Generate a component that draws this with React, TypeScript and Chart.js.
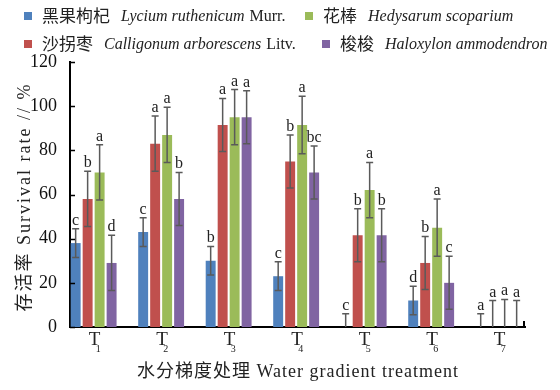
import React, { useEffect, useRef } from 'react';
import { Chart, registerables } from 'chart.js';

Chart.register(...registerables);

// ---- data ----
const categories = ['T1', 'T2', 'T3', 'T4', 'T5', 'T6', 'T7'];
const categoryPositions = [1, 2, 3, 4, 5, 6, 7];

const speciesCN = ['黑果枸杞', '沙拐枣', '花棒', '梭梭'];
const speciesLatin = ['Lycium ruthenicum', 'Calligonum arborescens', 'Hedysarum scoparium', 'Haloxylon ammodendron'];
const speciesAuthority = ['Murr.', 'Litv.', '', ''];

const lyciumMean = [38, 43, 30, 23, 0, 12, 0];
const lyciumErr = [6.5, 6.5, 6.5, 6.5, 6, 6.5, 6];
const lyciumSig = ['c', 'c', 'b', 'c', 'c', 'd', 'a'];

const calligonumMean = [58, 83, 91.5, 75, 41.5, 29, 0];
const calligonumErr = [12.5, 12.5, 12, 12, 12, 12, 12];
const calligonumSig = ['b', 'a', 'a', 'b', 'b', 'b', 'a'];

const hedysarumMean = [70, 87, 95, 91.5, 62, 45, 0];
const hedysarumErr = [12.5, 12.5, 12.5, 13, 12.5, 13, 12.5];
const hedysarumSig = ['a', 'a', 'a', 'a', 'a', 'a', 'a'];

const haloxylonMean = [29, 58, 95, 70, 41.5, 20, 0];
const haloxylonErr = [12.5, 12, 12, 12, 12, 12, 12];
const haloxylonSig = ['d', 'b', 'a', 'bc', 'b', 'c', 'a'];

const yTicksMax = 120;
const yTickStep = 20;

const means = [lyciumMean, calligonumMean, hedysarumMean, haloxylonMean];
const errs = [lyciumErr, calligonumErr, hedysarumErr, haloxylonErr];
const sigs = [lyciumSig, calligonumSig, hedysarumSig, haloxylonSig];
const colors = ['#4F81BD', '#C0504D', '#9BBB59', '#8064A2'];

const yTitle = '存活率 Survival rate // %';
const xTitle = '水分梯度处理 Water gradient treatment';

// legend layout: rows of dataset indices and box x-positions
const legendRows = [
  { items: [0, 2], xs: [24, 305], y: 16 },
  { items: [1, 3], xs: [24, 322], y: 44 },
];

const TEXT = '#222';
const SERIF = '"Liberation Serif", "Noto Sans CJK SC"';
const CJK = '"Noto Sans CJK SC"';

const overlayPlugin = {
  id: 'overlay',
  afterDatasetsDraw(chart: any) {
    const { ctx, chartArea } = chart;
    const y = chart.scales.y;
    ctx.save();
    ctx.beginPath();
    ctx.rect(chartArea.left, 0, chartArea.right - chartArea.left, chartArea.bottom);
    ctx.clip();
    chart.data.datasets.forEach((ds: any, di: number) => {
      const meta = chart.getDatasetMeta(di);
      meta.data.forEach((bar: any, i: number) => {
        const v = means[di][i];
        const e = errs[di][i];
        const cx = bar.x;
        const yTop = y.getPixelForValue(v + e);
        const lowVal = v - e;
        const yBot = y.getPixelForValue(Math.max(lowVal, 0));
        ctx.strokeStyle = '#5a5a5a';
        ctx.lineWidth = 1.5;
        ctx.beginPath();
        ctx.moveTo(cx, yTop);
        ctx.lineTo(cx, yBot);
        ctx.moveTo(cx - 3.5, yTop);
        ctx.lineTo(cx + 3.5, yTop);
        if (lowVal >= 0) {
          ctx.moveTo(cx - 3.5, yBot);
          ctx.lineTo(cx + 3.5, yBot);
        }
        ctx.stroke();
        ctx.fillStyle = TEXT;
        ctx.font = '16px "Liberation Serif"';
        ctx.textAlign = 'center';
        ctx.textBaseline = 'alphabetic';
        ctx.fillText(sigs[di][i], cx, yTop - 4);
      });
    });
    ctx.restore();
  },
  afterDraw(chart: any) {
    const { ctx, chartArea } = chart;
    const x = chart.scales.x;
    const y = chart.scales.y;
    ctx.save();
    // inward y ticks
    ctx.strokeStyle = '#000';
    ctx.lineWidth = 1.5;
    ctx.beginPath();
    y.ticks.forEach((t: any) => {
      const py = Math.round(y.getPixelForValue(t.value)) + 0.5;
      ctx.moveTo(chartArea.left, py);
      ctx.lineTo(chartArea.left + 5, py);
    });
    ctx.stroke();
    // x axis end hook
    ctx.lineWidth = 2;
    ctx.beginPath();
    ctx.moveTo(chartArea.right - 1, chartArea.bottom + 1);
    ctx.lineTo(chartArea.right - 1, chartArea.bottom - 6);
    ctx.stroke();

    // category labels with subscripts
    ctx.fillStyle = TEXT;
    categories.forEach((lab, i) => {
      const cx = x.getPixelForValue(categoryPositions[i]);
      ctx.font = '19px "Liberation Serif"';
      ctx.textAlign = 'center';
      ctx.textBaseline = 'alphabetic';
      ctx.fillText(lab.slice(0, 1), cx + 1, 345);
      ctx.font = '10px "Liberation Serif"';
      ctx.textAlign = 'left';
      ctx.fillText(lab.slice(1), cx + 2, 352);
    });

    // x title
    ctx.font = '18px ' + SERIF;
    (ctx as any).letterSpacing = '1px';
    ctx.textAlign = 'center';
    ctx.textBaseline = 'alphabetic';
    ctx.fillText(xTitle, 298, 377);

    // y title
    ctx.save();
    ctx.translate(25, 197);
    ctx.rotate(-Math.PI / 2);
    (ctx as any).letterSpacing = '2px';
    ctx.textBaseline = 'middle';
    ctx.fillText(yTitle, 0, 0);
    ctx.restore();
    (ctx as any).letterSpacing = '0px';

    // legend
    legendRows.forEach((row) => {
      row.items.forEach((di, k) => {
        let px = row.xs[k];
        ctx.fillStyle = colors[di];
        ctx.fillRect(px, row.y - 4, 8, 8);
        px += 8 + 10;
        ctx.fillStyle = TEXT;
        ctx.textAlign = 'left';
        ctx.textBaseline = 'middle';
        ctx.font = '17px ' + CJK;
        ctx.fillText(speciesCN[di], px, row.y);
        px += ctx.measureText(speciesCN[di]).width + 11;
        ctx.font = 'italic 16px "Liberation Serif"';
        ctx.fillText(speciesLatin[di], px, row.y + 1);
        px += ctx.measureText(speciesLatin[di]).width + 5;
        if (speciesAuthority[di]) {
          ctx.font = '16px "Liberation Serif"';
          ctx.fillText(speciesAuthority[di], px, row.y + 1);
        }
      });
    });
    ctx.restore();
  },
};

export default function App() {
  const ref = useRef<HTMLCanvasElement | null>(null);
  useEffect(() => {
    if (!ref.current) return;
    const chart = new Chart(ref.current, {
      type: 'bar',
      data: {
        datasets: means.map((m, di) => ({
          label: speciesCN[di] + ' ' + speciesLatin[di],
          data: m.map((v, i) => ({ x: categoryPositions[i], y: v })),
          backgroundColor: colors[di],
          borderWidth: 0,
          categoryPercentage: 0.71,
          barPercentage: 0.83,
        })),
      },
      options: {
        responsive: false,
        animation: false,
        layout: { padding: { top: 62, bottom: 63, left: 0, right: 35 } },
        plugins: { legend: { display: false }, tooltip: { enabled: false } },
        scales: {
          x: {
            type: 'linear',
            offset: false,
            min: 0.65,
            max: 7.39,
            ticks: { display: false },
            grid: { display: false },
            border: { display: true, color: '#000', width: 2 },
            afterFit: (s: any) => { s.height = 0; },
          },
          y: {
            min: 0,
            max: yTicksMax,
            ticks: { stepSize: yTickStep, color: '#111', padding: 5, font: { family: 'Liberation Serif', size: 18 } },
            grid: { display: false },
            border: { display: true, color: '#000', width: 2 },
            afterFit: (s: any) => { s.width = 70; },
          },
        },
      } as any,
      plugins: [overlayPlugin],
    });
    return () => chart.destroy();
  }, []);
  return (
    <div style={{ position: 'fixed', left: 0, top: 0, width: 560, height: 390, background: '#fff' }}>
      <canvas ref={ref} width={560} height={390} />
    </div>
  );
}
